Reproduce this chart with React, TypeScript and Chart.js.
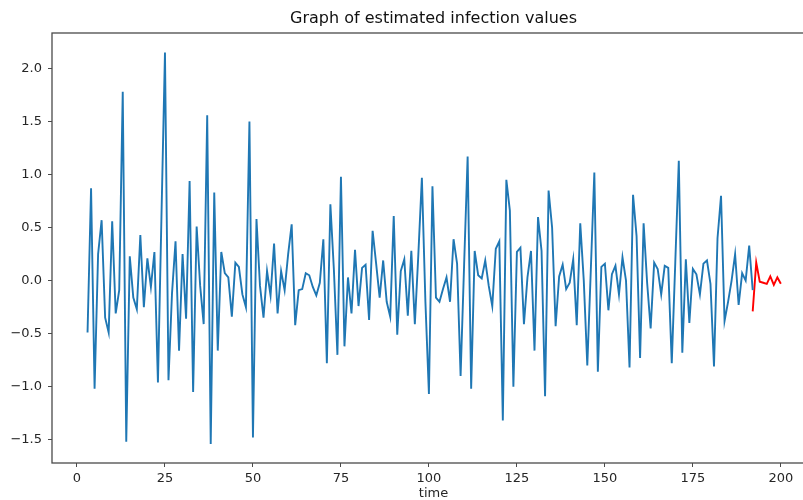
import React, { useEffect, useRef } from "react";
import { Chart, registerables } from "chart.js";

Chart.register(...registerables);

// Text
const chartTitle = "Graph of estimated infection values";
const xAxisLabel = "time";

// Estimated infection values, one per time step starting at t = 3
const estimatedStart = 3;
const estimatedValues = [
  -0.49, 0.87, -1.02, 0.25, 0.57, -0.35, -0.49, 0.56, -0.31, -0.09,
  1.78, -1.52, 0.23, -0.16, -0.27, 0.43, -0.25, 0.21, -0.06, 0.27,
  -0.96, 0.6, 2.15, -0.94, -0.12, 0.37, -0.66, 0.25, -0.36, 0.94,
  -1.05, 0.51, -0.05, -0.41, 1.56, -1.54, 0.83, -0.66, 0.27, 0.07,
  0.03, -0.34, 0.17, 0.13, -0.13, -0.25, 1.5, -1.48, 0.58, -0.05,
  -0.35, 0.09, -0.14, 0.35, -0.31, 0.09, -0.09, 0.25, 0.53, -0.42,
  -0.09, -0.08, 0.07, 0.05, -0.06, -0.14, -0.02, 0.39, -0.78, 0.72,
  0.1, -0.7, 0.98, -0.62, 0.03, -0.31, 0.29, -0.24, 0.12, 0.15,
  -0.37, 0.47, 0.16, -0.16, 0.19, -0.2, -0.34, 0.61, -0.51, 0.09,
  0.2, -0.33, 0.28, -0.41, 0.25, 0.97, -0.2, -1.07, 0.89, -0.16,
  -0.2, -0.08, 0.03, -0.2, 0.39, 0.16, -0.9, 0.15, 1.17, -1.02,
  0.28, 0.05, 0.02, 0.19, -0.05, -0.24, 0.3, 0.37, -1.32, 0.95,
  0.66, -1.0, 0.27, 0.31, -0.41, 0.03, 0.28, -0.66, 0.6, 0.28,
  -1.09, 0.85, 0.5, -0.43, 0.04, 0.15, -0.08, -0.02, 0.2, -0.42,
  0.54, 0.0, -0.8, 0.1, 1.02, -0.86, 0.13, 0.16, -0.28, 0.06,
  0.14, -0.13, 0.22, 0.0, -0.82, 0.81, 0.42, -0.73, 0.54, -0.02,
  -0.45, 0.17, 0.11, -0.13, 0.14, 0.12, -0.78, 0.17, 1.13, -0.68,
  0.2, -0.4, 0.11, 0.06, -0.13, 0.16, 0.19, -0.03, -0.81, 0.4,
  0.8, -0.38, -0.2, 0.0, 0.25, -0.23, 0.07, 0.0, 0.33, -0.09,
];

// Forecast continuation, starting at t = 192
const forecastStart = 192;
const forecastValues = [-0.29, 0.17, -0.01, -0.02, -0.03, 0.04, -0.04, 0.03, -0.03];

// Axis ticks
const xTickValues = [0, 25, 50, 75, 100, 125, 150, 175, 200];
const yTickValues = [-1.5, -1.0, -0.5, 0.0, 0.5, 1.0, 1.5, 2.0];

const toPoints = (start: number, values: number[]) =>
  values.map((v, i) => ({ x: start + i, y: v }));

const FONT = "'DejaVu Sans', sans-serif";
const TEXT = "#262626";
const SPINE = "#4a4a4a";

// Draws the axes frame, the title above the plot and the x-axis caption.
const framePlugin = {
  id: "frame",
  afterDraw(chart: any) {
    const { ctx, chartArea } = chart;
    const { left, right, top, bottom } = chartArea;
    ctx.save();
    ctx.strokeStyle = SPINE;
    ctx.lineWidth = 1.3;
    ctx.strokeRect(left, top, right - left, bottom - top);

    const cx = (left + right) / 2;
    ctx.fillStyle = "#111111";
    ctx.textAlign = "center";
    ctx.textBaseline = "middle";
    ctx.font = `16px ${FONT}`;
    ctx.fillText(chartTitle, cx, 19);
    ctx.fillStyle = TEXT;
    ctx.font = `13px ${FONT}`;
    ctx.fillText(xAxisLabel, cx, 494);
    ctx.restore();
  },
};

export default function App() {
  const canvasRef = useRef<HTMLCanvasElement | null>(null);

  useEffect(() => {
    document.body.style.margin = "0";
    const canvas = canvasRef.current;
    if (!canvas) return;

    const chart = new Chart(canvas, {
      type: "line",
      data: {
        datasets: [
          {
            label: "estimated",
            data: toPoints(estimatedStart, estimatedValues),
            borderColor: "#1f77b4",
            borderWidth: 1.9,
            pointRadius: 0,
            tension: 0,
          },
          {
            label: "forecast",
            data: toPoints(forecastStart, forecastValues),
            borderColor: "#ff0000",
            borderWidth: 1.9,
            pointRadius: 0,
            tension: 0,
          },
        ],
      },
      options: {
        responsive: false,
        animation: false,
        devicePixelRatio: 1,
        layout: { padding: { top: 33, right: 15, left: 0, bottom: 0 } },
        plugins: {
          legend: { display: false },
          title: { display: false },
          tooltip: { enabled: false },
        },
        scales: {
          x: {
            type: "linear",
            min: -7.1,
            max: 209.7,
            afterBuildTicks: (scale: any) => {
              scale.ticks = xTickValues.map((v) => ({ value: v }));
            },
            afterFit: (scale: any) => {
              scale.height = 37;
            },
            ticks: {
              autoSkip: false,
              maxRotation: 0,
              padding: 4,
              color: TEXT,
              font: { family: FONT, size: 13 },
              callback: (v: any) => String(v),
            },
            grid: {
              display: true,
              drawOnChartArea: false,
              drawTicks: true,
              tickLength: 4,
              tickColor: SPINE,
              tickWidth: 1,
            },
            border: { display: false },
          },
          y: {
            type: "linear",
            min: -1.72,
            max: 2.335,
            afterBuildTicks: (scale: any) => {
              scale.ticks = yTickValues.map((v) => ({ value: v }));
            },
            afterFit: (scale: any) => {
              scale.width = 52;
            },
            ticks: {
              padding: 6,
              color: TEXT,
              font: { family: FONT, size: 13 },
              callback: (v: any) => Number(v).toFixed(1).replace("-", "\u2212"),
            },
            grid: {
              display: true,
              drawOnChartArea: false,
              drawTicks: true,
              tickLength: 4,
              tickColor: SPINE,
              tickWidth: 1,
            },
            border: { display: false },
          },
        },
      },
      plugins: [framePlugin],
    });

    return () => chart.destroy();
  }, []);

  return (
    <div
      style={{
        position: "absolute",
        left: 0,
        top: 0,
        width: 803,
        height: 500,
        overflow: "hidden",
        background: "#ffffff",
      }}
    >
      <canvas ref={canvasRef} width={830} height={500} style={{ width: 830, height: 500 }} />
    </div>
  );
}
